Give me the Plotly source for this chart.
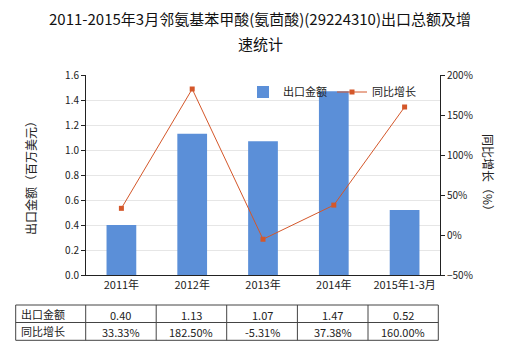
import plotly.graph_objects as go

categories = ["2011年", "2012年", "2013年", "2014年", "2015年1-3月"]
export_values = [0.40, 1.13, 1.07, 1.47, 0.52]
growth_values = [33.33, 182.50, -5.31, 37.38, 160.00]
export_labels = ["0.40", "1.13", "1.07", "1.47", "0.52"]
growth_labels = ["33.33%", "182.50%", "-5.31%", "37.38%", "160.00%"]
row_names = ["出口金额", "同比增长"]
title_lines = ["2011-2015年3月邻氨基苯甲酸(氨茴酸)(29224310)出口总额及增", "速统计"]

FONT = "Noto Sans CJK SC"
BAR_COLOR = "#5b8fd8"
LINE_COLOR = "#d4572a"

L, R, T, B = 86, 80, 75, 75
W, H = 520, 350
PW, PH = W - L - R, H - T - B

def px(x):
    return (x - L) / PW

def py(y):
    return (H - B - y) / PH

fig = go.Figure()
fig.add_trace(go.Bar(x=categories, y=export_values, name="出口金额",
                     marker=dict(color=BAR_COLOR, line=dict(width=0)), width=0.42,
                     yaxis="y"))
fig.add_trace(go.Scatter(x=categories, y=growth_values, name="同比增长",
                         mode="lines+markers", yaxis="y2",
                         line=dict(color=LINE_COLOR, width=1),
                         marker=dict(symbol="square", size=5, color=LINE_COLOR)))

# Table grid
shapes = []
xs = [15.7, 85.7, 156.2, 226.7, 297.4, 368.0, 438.3]
ys = [305, 322.5, 340.3]
for y in ys:
    shapes.append(dict(type="line", xref="paper", yref="paper",
                       x0=px(xs[0]), x1=px(xs[-1]), y0=py(y), y1=py(y),
                       line=dict(color="#444", width=1)))
for x in xs:
    shapes.append(dict(type="line", xref="paper", yref="paper",
                       x0=px(x), x1=px(x), y0=py(ys[0]), y1=py(ys[-1]),
                       line=dict(color="#444", width=1)))

annotations = []
row_vals = [export_labels, growth_labels]
for r in range(2):
    yc = (ys[r] + ys[r + 1]) / 2
    annotations.append(dict(x=px(xs[0] + 3), y=py(yc), xref="paper", yref="paper",
                            text=row_names[r], showarrow=False, xanchor="left", yanchor="middle",
                            font=dict(family=FONT, size=11, color="#222")))
    for c in range(5):
        annotations.append(dict(x=px((xs[c + 1] + xs[c + 2]) / 2), y=py(yc + 1),
                                xref="paper", yref="paper", text=row_vals[r][c],
                                showarrow=False, xanchor="center", yanchor="middle",
                                font=dict(family=FONT, size=11, color="#222")))

# Title
for i, (line, yy) in enumerate(zip(title_lines, [18, 43])):
    annotations.append(dict(x=px(260), y=py(yy), xref="paper", yref="paper",
                            text=line, showarrow=False, xanchor="center", yanchor="middle",
                            font=dict(family=FONT, size=15, color="#111")))

# Axis titles
annotations.append(dict(x=px(30), y=py(175), xref="paper", yref="paper",
                        text="出口金额（百万美元）", textangle=-90, showarrow=False,
                        xanchor="center", yanchor="middle",
                        font=dict(family=FONT, size=12, color="#222")))
annotations.append(dict(x=px(489), y=py(175), xref="paper", yref="paper",
                        text="同比增长（%）", textangle=90, showarrow=False,
                        xanchor="center", yanchor="middle",
                        font=dict(family=FONT, size=12, color="#222")))

fig.update_layout(
    width=W, height=H,
    margin=dict(l=L, r=R, t=T, b=B),
    paper_bgcolor="white", plot_bgcolor="white",
    font=dict(family=FONT, size=11, color="#222"),
    showlegend=True,
    legend=dict(orientation="h", x=px(243), y=py(92), xanchor="left", yanchor="middle",
                bgcolor="rgba(0,0,0,0)", font=dict(family=FONT, size=11, color="#222"),
                itemwidth=30, tracegroupgap=0),
    xaxis=dict(showline=True, linecolor="#222", ticks="", showgrid=False,
               tickfont=dict(family=FONT, size=11, color="#222")),
    yaxis=dict(range=[0, 1.6], dtick=0.2, tickformat=".1f", showline=True,
               linecolor="#222", ticks="outside", ticklen=4, tickcolor="#222",
               showgrid=True, gridcolor="#e6e6e6", zeroline=False,
               tickfont=dict(family=FONT, size=10, color="#222")),
    yaxis2=dict(range=[-50, 200], dtick=50, ticksuffix="%", overlaying="y", side="right",
                showline=True, linecolor="#222", ticks="outside", ticklen=4, tickcolor="#222",
                showgrid=False, zeroline=False,
                tickfont=dict(family=FONT, size=10, color="#222")),
    shapes=shapes,
    annotations=annotations,
)

fig.write_html("out.html")
